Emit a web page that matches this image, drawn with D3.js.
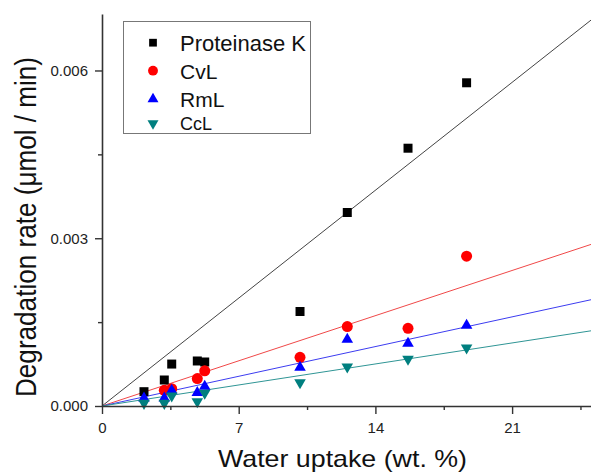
<!DOCTYPE html>
<html><head><meta charset="utf-8">
<script src="https://cdn.jsdelivr.net/npm/d3@7"></script>
<style>body{margin:0;background:#fff}svg{display:block}text{font-family:"Liberation Sans",Arial,sans-serif}</style>
</head><body>
<svg id="chart" width="591" height="472"></svg>
<script>
// ---- data ----
const waterUptake = [2.15, 3.19, 3.57, 4.88, 5.26, 10.14, 12.56, 15.67, 18.67];
const proteinaseK = [0.000256, 0.000465, 0.00075, 0.000805, 0.000787, 0.00169, 0.00346, 0.00461, 0.00578];
const cvL = [null, 0.00028, 0.00031, 0.00049, 0.00063, 0.00087, 0.00142, 0.00139, 0.00268];
const rmL = [0.00014, 0.00014, 0.00028, 0.00024, 0.00035, 0.00069, 0.00119, 0.00112, 0.00144];
const ccL = [0.00005, 0.00005, 0.00018, 0.00008, 0.00023, 0.00042, 0.0007, 0.00084, 0.00104];
const seriesNames = ["Proteinase K", "CvL", "RmL", "CcL"];
const fitSlopes = [0.0002756, 0.0001154, 0.0000759, 0.0000537];
const xTicks = [0, 7, 14, 21];
const xMinorTicks = [3.5, 10.5, 17.5, 24.5];
const yTicks = [0, 0.003, 0.006];
const yMinorTicks = [0.0015, 0.0045];

const colors = ["#000000", "#ff0000", "#0000ff", "#007f7f"];
const lineColors = ["#444444", "#f04848", "#3c3cf0", "#2f9595"];
const symbols = [d3.symbolSquare, d3.symbolCircle, d3.symbolTriangle, d3.symbolTriangle];
const sizes = [81, 95, 58, 58];
const rotations = [0, 0, 0, 180];
const seriesValues = [proteinaseK, cvL, rmL, ccL];

const svg = d3.select("#chart");
const x = d3.scaleLinear().domain([0, 25.04]).range([102, 591]);
const y = d3.scaleLinear().domain([0, 0.00701]).range([406, 14]);

// fit lines
const xMax = x.domain()[1];
fitSlopes.forEach((s, i) => {
  svg.append("line")
    .attr("x1", x(0)).attr("y1", y(0))
    .attr("x2", x(xMax)).attr("y2", y(s * xMax))
    .attr("stroke", lineColors[i]).attr("stroke-width", 1);
});

// points
seriesValues.forEach((vals, i) => {
  const pts = waterUptake.map((w, j) => ({w, v: vals[j]})).filter(d => d.v != null);
  svg.append("g").selectAll("path").data(pts).join("path")
    .attr("d", d3.symbol().type(symbols[i]).size(sizes[i]))
    .attr("transform", d => `translate(${x(d.w)},${y(d.v)}) rotate(${rotations[i]})`)
    .attr("fill", colors[i]);
});

// axes
const axisColor = "#333";
const xAxis = svg.append("g").attr("transform", "translate(0,406)")
  .call(d3.axisBottom(x).tickValues(xTicks).tickSize(8).tickSizeOuter(0).tickFormat(d3.format("d")));
svg.append("g").attr("transform", "translate(0,406)")
  .call(d3.axisBottom(x).tickValues(xMinorTicks).tickSize(4).tickSizeOuter(0).tickFormat(""))
  .call(g => g.select(".domain").remove());
const yAxis = svg.append("g").attr("transform", "translate(102,0)")
  .call(d3.axisLeft(y).tickValues(yTicks).tickSize(7).tickSizeOuter(0).tickFormat(d3.format(".3f")));
svg.append("g").attr("transform", "translate(102,0)")
  .call(d3.axisLeft(y).tickValues(yMinorTicks).tickSize(4).tickSizeOuter(0).tickFormat(""))
  .call(g => g.select(".domain").remove());
svg.selectAll(".domain").attr("stroke", axisColor).attr("stroke-width", 1.6);
svg.selectAll(".tick line").attr("stroke", axisColor).attr("stroke-width", 1.4);
xAxis.selectAll(".tick text").attr("font-size", 15).attr("fill", "#222").attr("y", 16)
  .attr("font-family", "'Liberation Sans',Arial,sans-serif");
yAxis.selectAll(".tick text").attr("font-size", 15).attr("fill", "#222").attr("x", -14)
  .attr("font-family", "'Liberation Sans',Arial,sans-serif");

// axis titles
svg.append("text").attr("x", 218).attr("y", 467)
  .attr("font-size", 24).attr("fill", "#111")
  .attr("textLength", 249).attr("lengthAdjust", "spacingAndGlyphs")
  .text("Water uptake (wt. %)");
svg.append("text").attr("transform", "translate(36,397) rotate(-90)")
  .attr("x", 0).attr("y", 0)
  .attr("font-size", 29).attr("fill", "#111")
  .attr("textLength", 340).attr("lengthAdjust", "spacingAndGlyphs")
  .text("Degradation rate (\u03bcmol / min)");

// legend
const legend = svg.append("g");
legend.append("rect").attr("x", 123.5).attr("y", 21.5).attr("width", 187).attr("height", 112)
  .attr("fill", "#fff").attr("stroke", "#777").attr("stroke-width", 1);
const legRows = [42.7, 70.7, 99, 123.3];
const legBase = [50.5, 79, 106.5, 129.5];
const legFont = [22, 21, 21, 18];
const legSizes = [60, 76, 52, 52];
seriesNames.forEach((name, i) => {
  legend.append("path")
    .attr("d", d3.symbol().type(symbols[i]).size(legSizes[i]))
    .attr("transform", `translate(153,${legRows[i]}) rotate(${rotations[i]})`)
    .attr("fill", colors[i]);
  legend.append("text").attr("x", 180).attr("y", legBase[i])
    .attr("font-size", legFont[i]).attr("fill", "#111").text(name);
});
</script>
</body></html>
